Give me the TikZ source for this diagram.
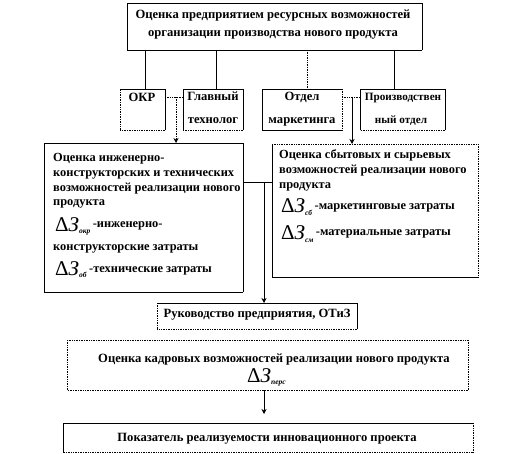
\documentclass[tikz,border=0pt]{standalone}
\usepackage{fontspec}
\setmainfont{Liberation Serif}
\usetikzlibrary{fit,arrows.meta,calc}
\tikzset{
 bx/.style={inner sep=0pt, outer sep=0pt},
 sl/.style={line width=0.6pt},
 dt/.style={line width=0.7pt, densely dotted},
 tx/.style={inner sep=0pt, font=\bfseries\fontsize{12.6}{15}\selectfont},
 tb/.style={inner sep=0pt, font=\bfseries\fontsize{12.4}{15}\selectfont},
 ts/.style={inner sep=0pt, font=\bfseries\fontsize{11.2}{15}\selectfont},
 arr/.style={-{Stealth[length=5pt,width=5pt]}},
}
\newcommand\boxsides[5]{%
 \draw[#2] (#1.north west) -- (#1.north east);
 \draw[#3] (#1.north east) -- (#1.south east);
 \draw[#4] (#1.south east) -- (#1.south west);
 \draw[#5] (#1.south west) -- (#1.north west);}
\newcommand\dz[1]{{\mdseries\fontsize{21}{21}\selectfont Δ\textit{З}}\raisebox{-2pt}{\fontsize{7.5}{7.5}\selectfont\textit{#1}}}
\begin{document}
\begin{tikzpicture}[x=1pt,y=-1pt]
\useasboundingbox (0,0) rectangle (532,454);
% boxes
\node[bx, fit={(127,3) (422,50)}] (top) {};
\node[bx, fit={(120,89) (165,130)}] (okr) {};
\node[bx, fit={(183,89) (243,130)}] (glav) {};
\node[bx, fit={(262,89) (342,130)}] (mark) {};
\node[bx, fit={(360,89) (445,130)}] (proiz) {};
\node[bx, fit={(44,143) (243,292)}] (left) {};
\node[bx, fit={(272,144) (478,277)}] (right) {};
\node[bx, fit={(157,303) (357,329)}] (ruk) {};
\node[bx, fit={(67,340) (468,390)}] (kadr) {};
\node[bx, fit={(63,423) (473,452)}] (bot) {};
\boxsides{top}{sl}{sl}{sl}{sl}
\boxsides{okr}{sl}{sl}{dt}{dt}
\boxsides{glav}{sl}{sl}{dt}{sl}
\boxsides{mark}{sl}{dt}{sl}{sl}
\boxsides{proiz}{sl}{sl}{dt}{sl}
\boxsides{left}{sl}{sl}{sl}{sl}
\boxsides{right}{dt}{dt}{sl}{sl}
\boxsides{ruk}{sl}{sl}{dt}{dt}
\boxsides{kadr}{dt}{dt}{dt}{dt}
\boxsides{bot}{sl}{dt}{dt}{sl}
% texts
\node[tx, anchor=base] (t1) at (273,19) {Оценка предприятием ресурсных возможностей};
\node[tx, anchor=base] (t2) at (273,37) {организации производства нового продукта};
\node[tx, anchor=base] (o1) at (142,102) {ОКР};
\node[tx, anchor=base] (g1) at (213,101) {Главный};
\node[tx, anchor=base] (g2) at (213,124) {технолог};
\node[tx, anchor=base] (m1) at (302,101) {Отдел};
\node[tx, anchor=base] (m2) at (302,124) {маркетинга};
\node[ts, anchor=base] (p1) at (403,101) {Производствен};
\node[ts, anchor=base] (p2) at (401,124) {ный отдел};
\node[tb, anchor=base west] (l1) at (53,162) {Оценка инженерно-};
\node[tb, anchor=base west] (l2) at (53,177) {конструкторских и технических};
\node[tb, anchor=base west] (l3) at (53,192) {возможностей реализации нового};
\node[tb, anchor=base west] (l4) at (53,206) {продукта};
\node[tb, anchor=base west] (l5) at (55,231) {\dz{окр}};
\node[tb, anchor=base west] (l5b) at ([xshift=2pt]l5.base east) {\raisebox{4pt}{-инженерно-}};
\node[tb, anchor=base west] (l6) at (53,250) {конструкторские затраты};
\node[tb, anchor=base west] (l7) at (55,275) {\dz{об}};
\node[tb, anchor=base west] (l7b) at ([xshift=2pt]l7.base east) {\raisebox{3pt}{-технические затраты}};
\node[tb, anchor=base west] (r1) at (279,159) {Оценка сбытовых и сырьевых};
\node[tb, anchor=base west] (r2) at (279,174) {возможностей реализации нового};
\node[tb, anchor=base west] (r3) at (279,189) {продукта};
\node[tb, anchor=base west] (r4) at (281,213) {\dz{сб}};
\node[tb, anchor=base west] (r4b) at ([xshift=2pt]r4.base east) {\raisebox{3pt}{-маркетинговые затраты}};
\node[tb, anchor=base west] (r5) at (281,240) {\dz{см}};
\node[tb, anchor=base west] (r5b) at ([xshift=2pt]r5.base east) {\raisebox{5pt}{-материальные затраты}};
\node[tx, anchor=base] (k0) at (257,317) {Руководство предприятия, ОТиЗ};
\node[tx, anchor=base] (k1) at (274,362) {Оценка кадровых возможностей реализации нового продукта};
\node[tx, anchor=base west] (k2) at (247,382) {\dz{перс}};
\node[tx, anchor=base] (b1) at (267,441) {Показатель реализуемости инновационного проекта};
% connectors
\coordinate (c1) at (145,0);
\coordinate (c2) at (216,0);
\coordinate (c3) at (307,0);
\coordinate (c4) at (394,0);
\draw[sl] (c1 |- top.south) -- (c1 |- okr.north);
\draw[sl] (c2 |- top.south) -- (c2 |- glav.north);
\draw[dt] (c3 |- top.south) -- (c3 |- mark.north);
\draw[sl] (c4 |- top.south) -- (c4 |- proiz.north);
\coordinate (j1) at (176,97);
\coordinate (j2) at (352,97);
\draw[dt] (okr.east |- j1) -- (glav.west |- j1);
\draw[dt, arr] (j1) -- (j1 |- left.north);
\draw[dt] (mark.east |- j2) -- (proiz.west |- j2);
\draw[sl, arr] (j2) -- (j2 |- right.north);
\coordinate (h) at (264,182);
\draw[sl] (left.east |- h) -- (right.west |- h);
\draw[sl, arr] (h) -- (h |- ruk.north);
\draw[sl, arr, shorten >=9pt] (h |- kadr.south) -- (h |- bot.north);
\end{tikzpicture}
\end{document}
